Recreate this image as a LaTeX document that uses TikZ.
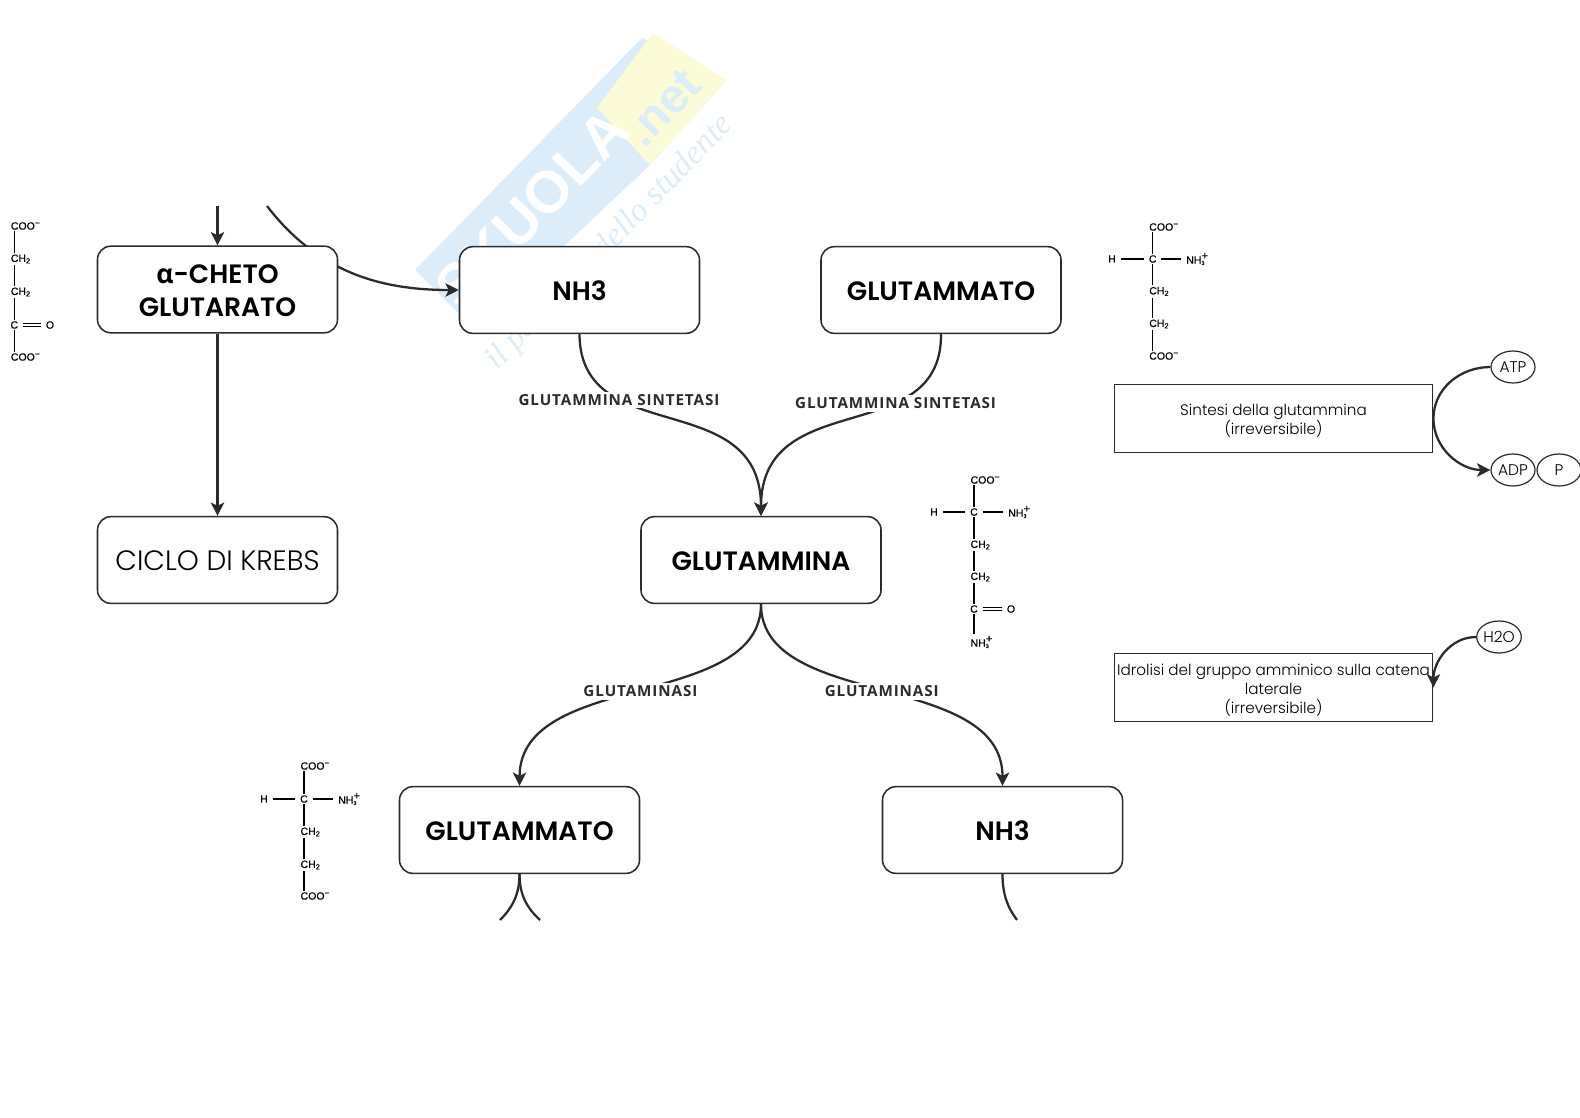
\documentclass[tikz,border=0pt]{standalone}
\usepackage{fontspec}
\setmainfont{Poppins}
\newfontfamily\lightfont{Poppins Light}
\newfontfamily\heavyfont{Poppins SemiBold}
\newfontfamily\labelfont[LetterSpace=6]{Open Sans}
\newfontfamily\chemfont[FakeBold=0.35]{Liberation Sans}
\newfontfamily\greekfont{Open Sans}
\newfontfamily\markfont{Liberation Serif}
\newfontfamily\namefont{Liberation Sans}
\usepackage{xcolor}
\usetikzlibrary{calc,shapes.geometric,arrows.meta,positioning,backgrounds}
\definecolor{inkdark}{HTML}{2B2B2B}
\definecolor{markblue}{HTML}{DCECF8}
\definecolor{markyellow}{HTML}{FBFBD8}
\newcommand{\carboxyl}{COO\textsuperscript{\fontsize{6.5}{6.5}\selectfont −}}
\newcommand{\ammonium}{NH\rlap{\raisebox{3.2pt}{\fontsize{8.5}{8.5}\selectfont +}}\textsubscript{\fontsize{4}{4}\selectfont 3}}

\begin{document}
\begin{tikzpicture}[
    x=0.75pt, y=-0.75pt,
    box/.style={rectangle, rounded corners=10pt, draw=inkdark, line width=1.15pt,
                minimum width=180pt, minimum height=65pt, align=center, inner sep=0pt,
                fill=white, font=\heavyfont\fontsize{19.9}{24.5}\selectfont,
                execute at begin node=\rule{0pt}{16pt}},
    lightbox/.style={box, font=\lightfont\fontsize{21}{24}\selectfont},
    note/.style={rectangle, draw=inkdark, line width=0.9pt, minimum width=239pt,
                 minimum height=51pt, align=center, inner sep=0pt, fill=white,
                 font=\lightfont\fontsize{11.4}{14.3}\selectfont},
    oval/.style={ellipse, draw=inkdark, line width=0.9pt, minimum width=33pt,
                 minimum height=24pt, inner sep=0pt, fill=white,
                 font=\lightfont\fontsize{11.6}{14}\selectfont},
    enzyme/.style={fill=white, inner sep=2pt, text=inkdark, font=\labelfont\bfseries\fontsize{11.4}{14}\selectfont},
    arrow/.style={-{Stealth[length=10pt, width=10pt, inset=2.5pt]}, draw=inkdark, line width=1.7pt},
    curve/.style={draw=inkdark, line width=1.7pt},
    chem/.style={inner sep=0pt, anchor=west, font=\chemfont\fontsize{7.9}{9}\selectfont},
    chemc/.style={chem, anchor=center},
    bond/.style={draw=black, line width=0.8pt, shorten >=1pt, shorten <=1pt},
    hbond/.style={draw=black, line width=0.8pt, shorten >=3.5pt, shorten <=3.5pt},
    dbond/.style={draw=black, line width=0.6pt, double, double distance=2pt, shorten >=3.5pt, shorten <=3.5pt}
]
\useasboundingbox (0,0) rectangle (1580,1117);

% ================= MAIN NODES =================
\node[box] (Cheto) at (217.5,289.5) {\rule{0pt}{16pt}{\greekfont\bfseries α}-CHETO\\GLUTARATO};
\node[lightbox] (Krebs) at (217.5,560) {CICLO DI KREBS};
\node[box] (AmmoniaTop) at (579.5,290) {NH3};
\node[box] (GlutTop) at (941,290) {GLUTAMMATO};
\node[box] (Glutammina) at (761,560) {GLUTAMMINA};
\node[box] (GlutLow) at (519.5,830) {GLUTAMMATO};
\node[box] (AmmoniaLow) at (1002.5,830) {NH3};

% Free ends
\coordinate (ChetoIn) at (217.5,206);
\coordinate (AmmoniaIn) at (267,206);
\coordinate (GlutLeft) at (500,920);
\coordinate (GlutRight) at (540,920);
\coordinate (AmmoniaOut) at (1017,920);

% ================= SIDE NOTES =================
\node[note] (Sintesi) at (1273.5,418.5) {\rule{0pt}{12pt}Sintesi della glutammina\\(irreversibile)};
\node[note] (Idrolisi) at (1273.5,687.5) {\rule{0pt}{12pt}Idrolisi del gruppo amminico sulla catena\\laterale\\(irreversibile)};
\node[oval] (Atp) at (1513,367) {ATP};
\node[oval] (Adp) at (1513,470) {ADP};
\node[oval] (Pi) at (1559,470) {P};
\node[oval] (Water) at (1499,637) {H2O};

% ================= WATERMARK AND ARROWS UNDER THE BOXES =================
\begin{scope}[on background layer]
\fill[markblue] (415,270) -- (642,38) -- (727,80) -- (650,165) -- (475,330) -- cycle;
\fill[markyellow] (597,108) -- (653,33) -- (727,80) -- (650,165) -- cycle;
\node[rotate=46, text=white, font=\namefont\bfseries\fontsize{44}{44}\selectfont] (MarkName) at (532,208) {SKUOLA};
\node[rotate=46, text=markblue, font=\namefont\bfseries\fontsize{36}{36}\selectfont] (MarkNet) at (663,108) {.net};
\node[rotate=46, text=markblue, font=\markfont\itshape\fontsize{25}{25}\selectfont] (MarkLine) at (610,243) {il paradiso dello studente};

\draw[arrow] (AmmoniaIn) .. controls (320,275) and (385,290) .. (AmmoniaTop.west);
\end{scope}

% ================= ARROWS =================
\draw[arrow] (ChetoIn) -- (Cheto.north);
\draw[arrow] (Cheto.south) -- (Krebs.north);

% Converging on the central node
\draw[arrow] (AmmoniaTop.south) .. controls (580,450) and (761,385) .. node[enzyme, pos=0.3] (EnzLeft) {GLUTAMMINA SINTETASI} (Glutammina.north);
\draw[arrow] (GlutTop.south) .. controls (942,450) and (761,385) .. node[enzyme, pos=0.33] (EnzRight) {GLUTAMMINA SINTETASI} (Glutammina.north);

% Leaving the central node
\draw[arrow] (Glutammina.south) .. controls (761,710) and (520,670) .. node[enzyme] (SplitLeft) {GLUTAMINASI} (GlutLow.north);
\draw[arrow] (Glutammina.south) .. controls (761,710) and (1002.5,670) .. node[enzyme] (SplitRight) {GLUTAMINASI} (AmmoniaLow.north);

% Cut off at the bottom
\draw[curve] (GlutLow.south) .. controls (519.5,895) and (512,908) .. (GlutLeft);
\draw[curve] (GlutLow.south) .. controls (519.5,895) and (527,908) .. (GlutRight);
\draw[curve] (AmmoniaLow.south) .. controls (1002.5,895) and (1008,908) .. (AmmoniaOut);

% Side arrows
\draw[arrow] (Atp.west) to[out=180, in=90] (Sintesi.east) to[out=-90, in=180] (Adp.west);
\draw[arrow] (Water.west) to[out=180, in=90] (Idrolisi.east);

% ================= STRUCTURE BESIDE CHETO =================
\coordinate (Kx) at (14.3,226);
\node[chem] (K1) at (10.6,226) {\carboxyl};
\node[chem] (K2) at (10.6,259) {CH\textsubscript{2}};
\node[chem] (K3) at (10.6,292) {CH\textsubscript{2}};
\node[chemc] (K4) at (14.3,325) {C};
\node[chem] (K5) at (10.6,357) {\carboxyl};
\node[chemc] (K6) at (50,325) {O};
\draw[bond] (Kx |- K1.south) -- (Kx |- K2.north);
\draw[bond] (Kx |- K2.south) -- (Kx |- K3.north);
\draw[bond] (Kx |- K3.south) -- (K4.north);
\draw[bond] (K4.south) -- (Kx |- K5.north);
\draw[dbond] (K4.east) -- (K6.west);

% ================= STRUCTURE BESIDE UPPER GLUTAMMATO =================
\node[chemc] (A2) at (1152.7,259) {C};
\node[chem] (A1) at (1149,227) {\carboxyl};
\node[chemc] (A6) at (1112,259) {H};
\node[chem] (A7) at (1186,259) {\ammonium};
\node[chem] (A3) at (1149,291.5) {CH\textsubscript{2}};
\node[chem] (A4) at (1149,324) {CH\textsubscript{2}};
\node[chem] (A5) at (1149,356) {\carboxyl};
\draw[bond] (A2 |- A1.south) -- (A2.north);
\draw[bond] (A2.south) -- (A2 |- A3.north);
\draw[bond] (A2 |- A3.south) -- (A2 |- A4.north);
\draw[bond] (A2 |- A4.south) -- (A2 |- A5.north);
\draw[hbond] (A6.east) -- (A2.west);
\draw[hbond] (A2.east) -- (A7.west);

% ================= STRUCTURE BESIDE GLUTAMMINA =================
\node[chemc] (M2) at (974,512) {C};
\node[chem] (M1) at (970.3,480) {\carboxyl};
\node[chemc] (M7) at (934,512) {H};
\node[chem] (M8) at (1008,512) {\ammonium};
\node[chem] (M3) at (970.3,545) {CH\textsubscript{2}};
\node[chem] (M4) at (970.3,577) {CH\textsubscript{2}};
\node[chemc] (M5) at (974,609) {C};
\node[chemc] (M9) at (1011,609) {O};
\node[chem] (M6) at (970.3,642) {\ammonium};
\draw[bond] (M2 |- M1.south) -- (M2.north);
\draw[bond] (M2.south) -- (M2 |- M3.north);
\draw[bond] (M2 |- M3.south) -- (M2 |- M4.north);
\draw[bond] (M2 |- M4.south) -- (M5.north);
\draw[bond] (M5.south) -- (M2 |- M6.north);
\draw[hbond] (M7.east) -- (M2.west);
\draw[hbond] (M2.east) -- (M8.west);
\draw[dbond] (M5.east) -- (M9.west);

% ================= STRUCTURE BESIDE LOWER GLUTAMMATO =================
\node[chemc] (L2) at (304,799) {C};
\node[chem] (L1) at (300.3,766) {\carboxyl};
\node[chemc] (L6) at (264,799) {H};
\node[chem] (L7) at (338,799) {\ammonium};
\node[chem] (L3) at (300.3,832) {CH\textsubscript{2}};
\node[chem] (L4) at (300.3,865) {CH\textsubscript{2}};
\node[chem] (L5) at (300.3,896) {\carboxyl};
\draw[bond] (L2 |- L1.south) -- (L2.north);
\draw[bond] (L2.south) -- (L2 |- L3.north);
\draw[bond] (L2 |- L3.south) -- (L2 |- L4.north);
\draw[bond] (L2 |- L4.south) -- (L2 |- L5.north);
\draw[hbond] (L6.east) -- (L2.west);
\draw[hbond] (L2.east) -- (L7.west);

\end{tikzpicture}
\end{document}
